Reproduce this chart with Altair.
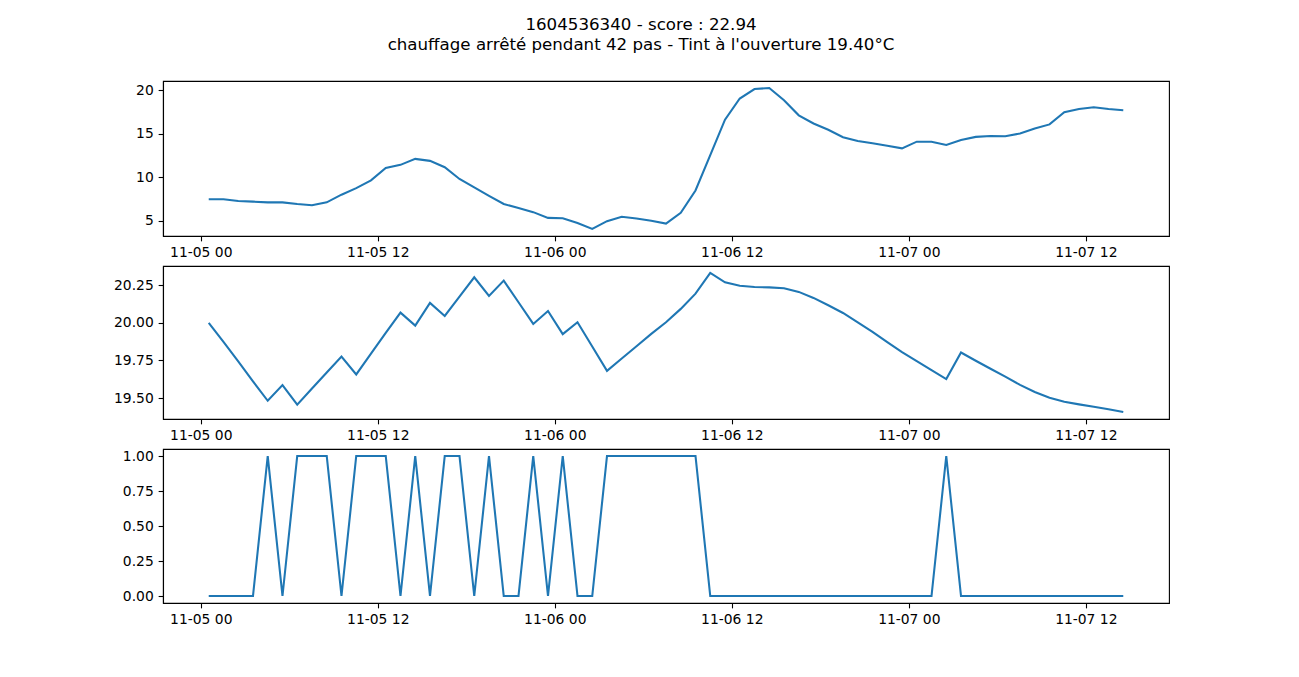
import altair as alt
import pandas as pd

# ---- data (hourly samples) ----
t0 = 1604536340  # first sample, unix seconds (UTC)
step_seconds = 3600

temp_top = [7.47, 7.47, 7.28, 7.20, 7.12, 7.12, 6.93, 6.78, 7.12, 8.00,
            8.75, 9.64, 11.07, 11.42, 12.11, 11.88, 11.15, 9.80, 8.83, 7.86,
            6.93, 6.47, 6.00, 5.34, 5.30, 4.76, 4.07, 4.96, 5.46, 5.27,
            5.00, 4.69, 5.93, 8.48, 12.54, 16.60, 19.03, 20.12, 20.23, 18.84,
            17.10, 16.17, 15.44, 14.59, 14.16, 13.89, 13.62, 13.31, 14.08, 14.08,
            13.70, 14.28, 14.63, 14.74, 14.70, 15.01, 15.59, 16.06, 17.45, 17.83,
            18.03, 17.83, 17.68]

tint = [20.000, 19.874, 19.744, 19.611, 19.482, 19.586, 19.456, 19.564, 19.670, 19.776,
        19.657, 19.796, 19.933, 20.068, 19.982, 20.133, 20.046, 20.174, 20.303, 20.179,
        20.281, 20.137, 19.993, 20.079, 19.925, 20.004, 19.843, 19.681, 19.763, 19.845,
        19.927, 20.004, 20.093, 20.194, 20.332, 20.270, 20.247, 20.239, 20.236, 20.230,
        20.206, 20.166, 20.117, 20.066, 20.004, 19.940, 19.872, 19.805, 19.746, 19.686,
        19.626, 19.803, 19.748, 19.695, 19.642, 19.588, 19.540, 19.502, 19.476, 19.458,
        19.442, 19.425, 19.407]

chauffage = [0, 0, 0, 0, 1, 0, 1, 1, 1, 0,
             1, 1, 1, 0, 1, 0, 1, 1, 0, 1,
             0, 0, 1, 0, 1, 0, 0, 1, 1, 1,
             1, 1, 1, 1, 0, 0, 0, 0, 0, 0,
             0, 0, 0, 0, 0, 0, 0, 0, 0, 0,
             1, 0, 0, 0, 0, 0, 0, 0, 0, 0,
             0, 0, 0]

x_tick_dates = ["2020-11-05T00:00:00Z", "2020-11-05T12:00:00Z",
                "2020-11-06T00:00:00Z", "2020-11-06T12:00:00Z",
                "2020-11-07T00:00:00Z", "2020-11-07T12:00:00Z"]

y_ticks_top = [5, 10, 15, 20]
y_ticks_mid = [19.5, 19.75, 20.0, 20.25]
y_ticks_bot = [0.0, 0.25, 0.5, 0.75, 1.0]

title_lines = ["1604536340 - score : 22.94",
               "chauffage arrêté pendant 42 pas - Tint à l'ouverture 19.40°C"]

# ---- build table ----
n = len(temp_top)
times_ms = [(t0 + i * step_seconds) * 1000 for i in range(n)]
df = pd.DataFrame({"t": times_ms, "a": temp_top, "b": tint, "c": chauffage})

span = times_ms[-1] - times_ms[0]
x_domain = [times_ms[0] - 0.05 * span, times_ms[-1] + 0.05 * span]
x_ticks = [int(pd.Timestamp(d).value // 10**6) for d in x_tick_dates]

FONT = "DejaVu Sans"
BLUE = "#1f77b4"


def ydom(vals):
    lo, hi = min(vals), max(vals)
    pad = 0.05 * (hi - lo)
    return [lo - pad, hi + pad]


def panel(field, vals, ticks, fmt, h):
    return alt.Chart(df).mark_line(color=BLUE, strokeWidth=2.08).encode(
        x=alt.X("t:T",
                scale=alt.Scale(type="utc", domain=x_domain, nice=False),
                axis=alt.Axis(values=x_ticks, format="%m-%d %H", title=None)),
        y=alt.Y(f"{field}:Q",
                scale=alt.Scale(domain=ydom(vals), nice=False, zero=False),
                axis=alt.Axis(values=ticks, format=fmt, title=None,
                              minExtent=50, maxExtent=50)),
    ).properties(width=1006, height=h)


p1 = panel("a", temp_top, y_ticks_top, "d", 155)
p2 = panel("b", tint, y_ticks_mid, ".2f", 153)
p3 = panel("c", chauffage, y_ticks_bot, ".2f", 154)

chart = alt.vconcat(p1, p2, p3, spacing=4).properties(
    title=alt.TitleParams(text=title_lines, font=FONT, fontSize=16.67,
                          fontWeight="normal", color="black", anchor="middle",
                          lineHeight=20, offset=27),
    padding={"left": 104, "top": 8, "right": 10, "bottom": 10},
).configure_view(
    stroke="black", strokeWidth=1.1
).configure_axis(
    grid=False, domain=True, domainColor="black", domainWidth=1.1,
    ticks=True, tickColor="black", tickSize=4.86, tickWidth=1.1,
    labelFont=FONT, labelFontSize=13.89, labelColor="black",
    labelPadding=4.86, labelFlush=False, labelOverlap=False,
)

chart.save("out.html", embed_options={"renderer": "svg", "actions": False})
